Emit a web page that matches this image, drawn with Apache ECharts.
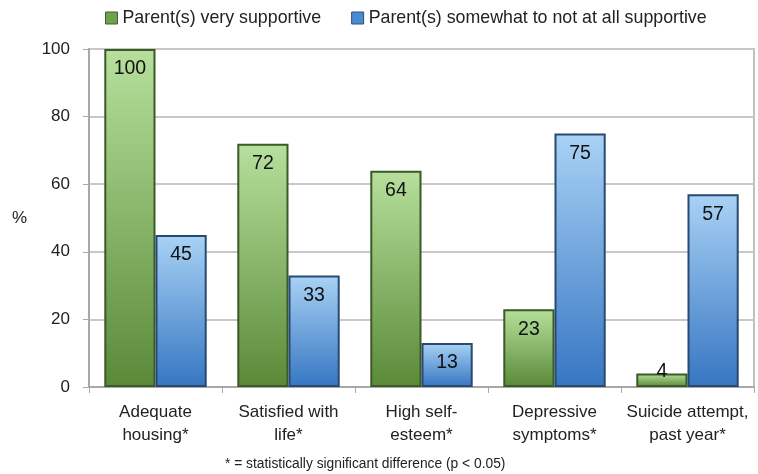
<!DOCTYPE html>
<html><head><meta charset="utf-8">
<script src="https://cdn.jsdelivr.net/npm/echarts@6/dist/echarts.min.js"></script>
<style>html,body{margin:0;padding:0;background:#fff}#c{width:758px;height:474px}</style>
</head><body><div id="c"></div>
<script>
const categories = ['Adequate\nhousing*', 'Satisfied with\nlife*', 'High self-\nesteem*', 'Depressive\nsymptoms*', 'Suicide attempt,\npast year*'];
const seriesNames = ['Parent(s) very supportive', 'Parent(s) somewhat to not at all supportive'];
const veryValues = [100, 72, 64, 23, 4];
const somewhatValues = [45, 33, 13, 75, 57];
const yTicks = [0, 20, 40, 60, 80, 100];
const footnote = '* = statistically significant difference (p < 0.05)';

const FONT = "'Liberation Sans', Arial, sans-serif";
function grad(top, bottom) {
  return new echarts.graphic.LinearGradient(0, 0, 0, 1, [
    {offset: 0, color: top}, {offset: 1, color: bottom}
  ]);
}
const greenFill = grad('#b6e09c', '#5a8a38');
const blueFill = grad('#a9d2f5', '#3676c2');
function mkData(vals) {
  return vals.map(v => v < 10
    ? {value: v, label: {position: 'top', distance: -8}}
    : {value: v});
}
const chart = echarts.init(document.getElementById('c'), null, {renderer: 'canvas'});
chart.setOption({
  animation: false,
  textStyle: {fontFamily: FONT},
  legend: {
    top: 4, left: 100, itemWidth: 12, itemHeight: 12, itemGap: 30,
    textStyle: {fontSize: 17.8, color: '#222', fontFamily: FONT},
    data: [
      {name: seriesNames[0], icon: 'rect', itemStyle: {color: '#6fa34a', borderColor: '#3f5f2c', borderWidth: 1}},
      {name: seriesNames[1], icon: 'rect', itemStyle: {color: '#4a8ad2', borderColor: '#2a4f7a', borderWidth: 1}}
    ]
  },
  grid: {left: 89, right: 4, top: 49, bottom: 87, show: true, borderColor: '#c0c0c0', borderWidth: 2},
  xAxis: {
    type: 'category', data: categories,
    axisLine: {lineStyle: {color: '#a8a8a8', width: 2}},
    axisTick: {show: true, length: 6, interval: 0, lineStyle: {color: '#a8a8a8', width: 1}},
    axisLabel: {interval: 0, fontSize: 17, color: '#222', lineHeight: 23, margin: 14, fontFamily: FONT}
  },
  yAxis: {
    type: 'value', min: 0, max: 100, interval: 20,
    name: '%', nameLocation: 'middle', nameRotate: 0, nameGap: 62,
    nameTextStyle: {fontSize: 17, color: '#222', fontFamily: FONT, padding: [0, 0, 10, 0]},
    axisLine: {show: true, lineStyle: {color: '#a8a8a8', width: 2}},
    axisTick: {show: true, length: 6, lineStyle: {color: '#a8a8a8'}},
    axisLabel: {fontSize: 17, color: '#222', margin: 19, fontFamily: FONT,
      formatter: v => yTicks.includes(v) ? String(v) : ''},
    splitLine: {lineStyle: {color: '#c8c8c8', width: 2}}
  },
  series: [
    {
      name: seriesNames[0], type: 'bar', data: mkData(veryValues),
      barGap: '0%', barCategoryGap: '23%',
      itemStyle: {color: greenFill, borderColor: '#3b5a28', borderWidth: 2},
      label: {show: true, position: 'insideTop', distance: 10, fontSize: 19.5, color: '#111', fontFamily: FONT}
    },
    {
      name: seriesNames[1], type: 'bar', data: mkData(somewhatValues),
      itemStyle: {color: blueFill, borderColor: '#284a72', borderWidth: 2},
      label: {show: true, position: 'insideTop', distance: 10, fontSize: 19.5, color: '#111', fontFamily: FONT}
    }
  ],
  graphic: [{
    type: 'text', left: 225, top: 457,
    style: {text: footnote, fontSize: 13.8, fill: '#222', fontFamily: FONT}
  }]
});
</script></body></html>
